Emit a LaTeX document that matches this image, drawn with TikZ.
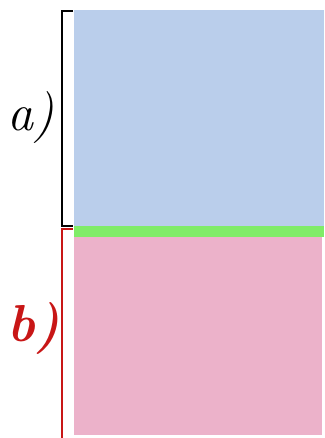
\documentclass[tikz,border=0pt]{standalone}
\definecolor{layerblue}{RGB}{186,206,235}
\definecolor{layerpink}{RGB}{236,178,202}
\definecolor{layergreen}{RGB}{128,236,104}
\definecolor{labelred}{RGB}{200,22,22}
\tikzset{
  layer/.style={draw=none, inner sep=0pt, anchor=north west},
  bracketline/.style={line width=1.6pt},
  lab/.style={font=\fontsize{52}{52}\selectfont\itshape, anchor=center}
}
\begin{document}
\begin{tikzpicture}[x=1pt,y=-1pt]
\useasboundingbox (0,0) rectangle (324,438);
\node[layer, fill=layerblue, minimum width=250pt, minimum height=216pt] (a) at (74,10) {};
\node[layer, fill=layergreen, minimum width=250pt, minimum height=11pt] (g) at (74,226) {};
\node[layer, fill=layerpink, minimum width=248pt, minimum height=198pt] (b) at (74,237) {};
\coordinate (at) at (73,11);
\coordinate (ab) at (73,226);
\coordinate (bt) at (73,229);
\coordinate (bb) at (62,438);
\draw[bracketline, black] (at) -- (62,11) -- (62,226) -- (ab);
\draw[bracketline, labelred] (bt) -- (62,229) -- (bb);
\node[lab, text=black] (la) at (31,118) {a)};
\node[lab, text=labelred, font=\fontsize{52}{52}\selectfont\bfseries\itshape] (lb) at (34,328) {b)};
\end{tikzpicture}
\end{document}
